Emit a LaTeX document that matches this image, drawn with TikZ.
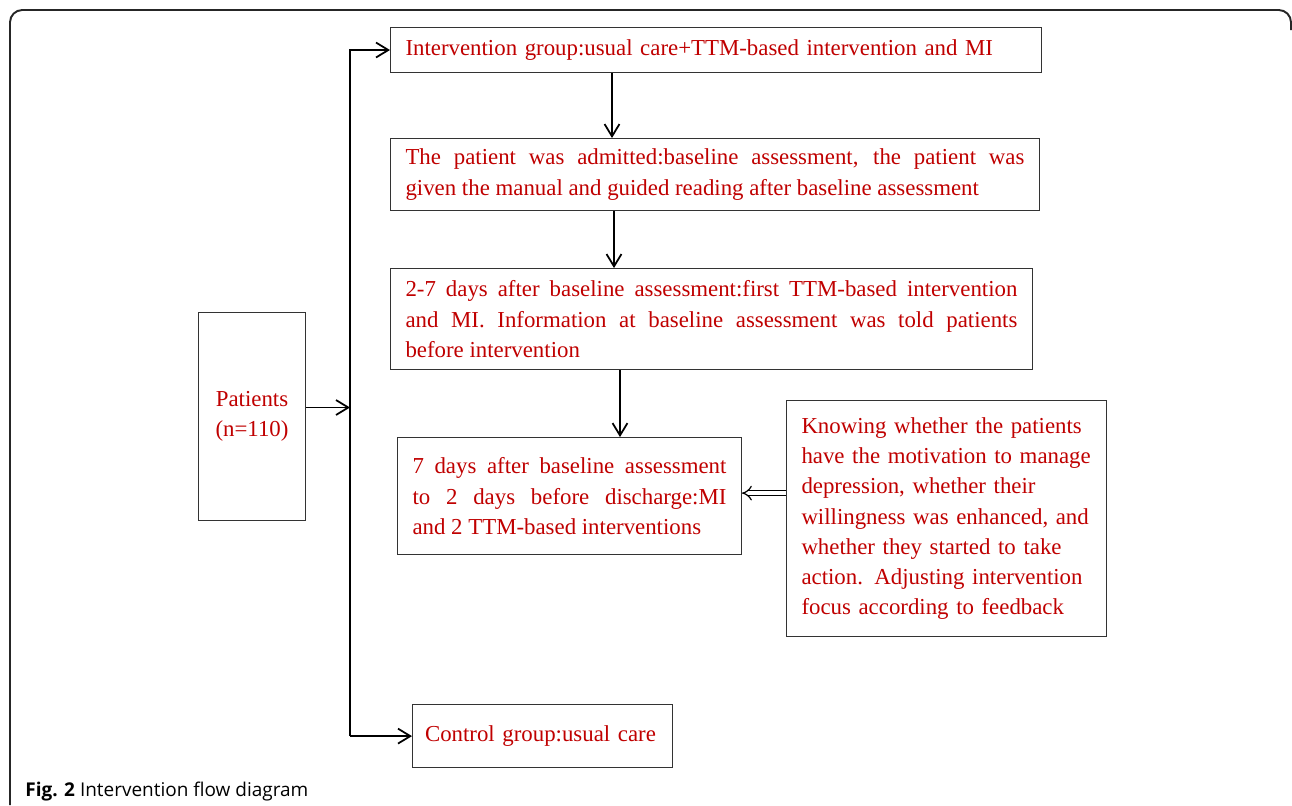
\documentclass[tikz,border=0pt]{standalone}
\usepackage{fontspec}
\setmainfont{Liberation Serif}
\newfontfamily\capfont{Open Sans}
\usetikzlibrary{arrows.meta, positioning, calc}
\definecolor{txtred}{RGB}{192,0,0}

\begin{document}
\begin{tikzpicture}[
    x=0.02cm, y=-0.02cm,
    box/.style={
        rectangle,
        draw=black!80,
        line width=0.6pt,
        fill=white,
        inner xsep=0.3cm,
        inner ysep=0pt,
        align=justify,
        text=txtred,
        font=\fontsize{13pt}{17.2pt}\selectfont
    },
    arrow/.style={
        -{Straight Barb[length=7pt,width=8.5pt]},
        line width=1pt,
        black
    },
    feedarrow/.style={
        double,
        double distance=2.2pt,
        line width=0.7pt,
        -{Implies[scale=1.6]}
    },
    frame/.style={
        draw=black!85,
        line width=1.1pt,
        rounded corners=7pt
    }
]
\useasboundingbox (0,0) rectangle (1292,805);

% outer frame
\draw[frame] (10,805) -- (10,10) -- (1291,10) -- (1291,30);

% INTERVENTION group
\node[box, align=left, text width=12.42cm, minimum height=0.9cm, anchor=north west] (intv) at (390,27) {
    Intervention group:usual care+TTM-based intervention and MI
};

% admission / baseline
\node[box, text width=12.38cm, minimum height=1.44cm, below=1.3cm of intv.south west, anchor=north west] (admit) {
    The patient was admitted:baseline assessment, the patient was\linebreak
    given the manual and guided reading after baseline assessment
};

% first intervention
\node[box, text width=12.24cm, minimum height=2.02cm, below=1.14cm of admit.south west, anchor=north west] (first) {
    2-7 days after baseline assessment:first TTM-based intervention\linebreak
    and MI. Information at baseline assessment was told patients\linebreak
    before intervention
};

% later interventions
\node[box, text width=6.28cm, minimum height=2.34cm, below=1.34cm of first.south west, xshift=0.14cm, anchor=north west] (second) {
    7 days after baseline assessment\linebreak
    to 2 days before discharge:MI\linebreak
    and 2 TTM-based interventions
};

% feedback box
\node[box, align=left, text width=5.8cm, minimum height=4.72cm, right=0.88cm of second.north east, yshift=0.74cm, anchor=north west] (fb) {
    Knowing whether the patients\\
    have the motivation to manage\\
    depression, whether their\\
    willingness was enhanced, and\\
    whether they started to take\\
    action. Adjusting intervention\\
    focus according to feedback
};

% CONTROL group
\node[box, align=left, inner xsep=0.25cm, text width=4.7cm, minimum height=1.26cm, below=2.98cm of second.south west, xshift=0.3cm, anchor=north west] (ctrl) {
    Control group:usual care
};

% patients
\node[box, align=center, text width=1.54cm, minimum height=4.16cm, anchor=north west] (pat) at (198,312) {
    Patients\\(n=110)
};

% caption
\node[font=\capfont\fontsize{10.8pt}{13pt}\selectfont, anchor=base west, inner sep=0pt] (cap) at (25,796) {
    \textbf{Fig. 2} Intervention flow diagram
};

% trunk and arrow x positions
\coordinate (tx) at (350,0);
\coordinate (a1) at (612,0);
\coordinate (a2) at (614,0);
\coordinate (a3) at (620,0);

% split into the two groups
\draw[arrow] (tx |- ctrl.west) -- (tx |- intv.west) -- (intv.west);
\draw[arrow] (tx |- ctrl.west) -- (ctrl.west);
\draw[arrow] ([yshift=0.18cm]pat.east) -- ([yshift=0.18cm]tx |- pat.east);

% intervention steps
\draw[arrow] (a1 |- intv.south) -- (a1 |- admit.north);
\draw[arrow] (a2 |- admit.south) -- (a2 |- first.north);
\draw[arrow] (a3 |- first.south) -- (a3 |- second.north);

% feedback
\draw[feedarrow] ([yshift=0.06cm]fb.west |- second.east) -- ([yshift=0.06cm]second.east);

\end{tikzpicture}
\end{document}
